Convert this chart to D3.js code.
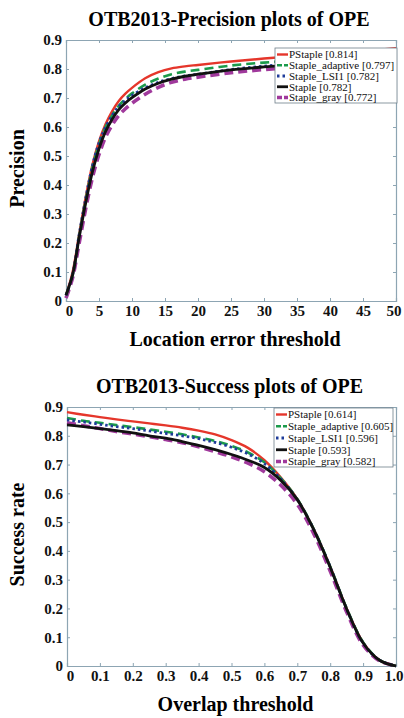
<!DOCTYPE html>
<html>
<head>
<meta charset="utf-8">
<script src="https://cdn.jsdelivr.net/npm/d3@7/dist/d3.min.js"></script>
<style>
  body { margin: 0; background: #fff; }
  svg text { font-family: "Liberation Serif", "DejaVu Serif", serif; }
</style>
</head>
<body>
<div id="chart"></div>
<script>
// 数据：系列名称与颜色
const seriesNames = ["PStaple", "Staple_adaptive", "Staple_LSI1", "Staple", "Staple_gray"];
const precScores = ["0.814", "0.797", "0.782", "0.782", "0.772"];
const succScores = ["0.614", "0.605", "0.596", "0.593", "0.582"];
const colors = ["#e5362b", "#1b9a4b", "#1f3c9a", "#111111", "#a0399c"];

// 精度曲线（位置误差阈值）
const precX = [0, 1, 2, 3, 4, 5, 6, 7, 8, 9, 10, 12, 14, 16, 18, 20, 25, 30, 35, 40, 45, 50];
const precPStaple = [0.02, 0.10, 0.23, 0.36, 0.47, 0.55, 0.61, 0.655, 0.69, 0.715, 0.735, 0.768, 0.789, 0.802, 0.809, 0.814, 0.826, 0.836, 0.845, 0.853, 0.862, 0.872];
const precAdaptive = [0.02, 0.09, 0.225, 0.35, 0.46, 0.54, 0.60, 0.64, 0.673, 0.697, 0.716, 0.746, 0.767, 0.782, 0.791, 0.797, 0.812, 0.822, 0.83, 0.836, 0.842, 0.848];
const precLSI1 = [0.02, 0.09, 0.23, 0.355, 0.465, 0.545, 0.60, 0.64, 0.671, 0.692, 0.709, 0.735, 0.754, 0.767, 0.776, 0.782, 0.798, 0.81, 0.82, 0.828, 0.835, 0.84];
const precStaple = [0.02, 0.09, 0.22, 0.34, 0.445, 0.525, 0.585, 0.627, 0.66, 0.683, 0.701, 0.731, 0.751, 0.765, 0.775, 0.782, 0.797, 0.807, 0.815, 0.822, 0.828, 0.834];
const precGray = [0.01, 0.08, 0.20, 0.32, 0.425, 0.505, 0.565, 0.607, 0.64, 0.663, 0.682, 0.713, 0.737, 0.754, 0.765, 0.772, 0.787, 0.798, 0.806, 0.813, 0.819, 0.825];

// 成功率曲线（重叠阈值）
const succX = [0, 0.05, 0.1, 0.15, 0.2, 0.25, 0.3, 0.35, 0.4, 0.45, 0.5, 0.55, 0.6, 0.65, 0.7, 0.75, 0.8, 0.85, 0.9, 0.95, 1.0];
const succPStaple = [0.882, 0.873, 0.865, 0.857, 0.85, 0.843, 0.836, 0.828, 0.818, 0.805, 0.785, 0.758, 0.715, 0.655, 0.58, 0.475, 0.345, 0.2, 0.082, 0.02, 0];
const succAdaptive = [0.862, 0.852, 0.845, 0.837, 0.83, 0.822, 0.814, 0.805, 0.794, 0.782, 0.765, 0.742, 0.708, 0.652, 0.58, 0.476, 0.346, 0.201, 0.083, 0.021, 0];
const succLSI1 = [0.855, 0.848, 0.84, 0.832, 0.825, 0.817, 0.808, 0.80, 0.79, 0.777, 0.76, 0.737, 0.703, 0.65, 0.578, 0.474, 0.344, 0.198, 0.08, 0.02, 0];
const succStaple = [0.838, 0.832, 0.825, 0.818, 0.81, 0.80, 0.792, 0.78, 0.767, 0.752, 0.735, 0.715, 0.69, 0.645, 0.578, 0.474, 0.343, 0.198, 0.08, 0.02, 0];
const succGray = [0.845, 0.835, 0.825, 0.815, 0.806, 0.797, 0.787, 0.776, 0.762, 0.745, 0.727, 0.705, 0.675, 0.628, 0.562, 0.46, 0.33, 0.188, 0.073, 0.018, 0];

// 刻度
const precXTicks = [0, 5, 10, 15, 20, 25, 30, 35, 40, 45, 50];
const succXTicks = [0, 0.1, 0.2, 0.3, 0.4, 0.5, 0.6, 0.7, 0.8, 0.9, 1.0];
const yTicks = [0, 0.1, 0.2, 0.3, 0.4, 0.5, 0.6, 0.7, 0.8, 0.9];

// 线型
const dashes = [null, "9,5", "2.5,3", null, "9,5"];
const widths = [2.4, 2.6, 2.8, 2.8, 3.6];
const drawOrder = [4, 0, 1, 2, 3];

const svg = d3.select("#chart").append("svg").attr("width", 404).attr("height", 718);

function drawPanel(cfg) {
  const x = d3.scaleLinear().domain(cfg.xDomain).range([cfg.left, cfg.right]);
  const y = d3.scaleLinear().domain([0, 0.9]).range([cfg.bottom, cfg.top]);
  const g = svg.append("g");
  const axisColor = "#8da5b3";
  const lastTick = cfg.xTicks.length - 1;

  // 标题
  g.append("text")
    .attr("x", (cfg.left + cfg.right) / 2 - 2)
    .attr("y", cfg.top - 14)
    .attr("text-anchor", "middle")
    .style("font-size", "20px")
    .style("font-weight", "bold")
    .text(cfg.title);

  // 坐标轴（刻度朝内）
  const bottomAxis = g.append("g").attr("transform", `translate(0,${cfg.bottom})`)
    .call(d3.axisBottom(x).tickValues(cfg.xTicks).tickSize(-3).tickFormat(cfg.fmtX));
  g.append("g").attr("transform", `translate(0,${cfg.top})`)
    .call(d3.axisTop(x).tickValues(cfg.xTicks).tickSize(-3).tickFormat(""));
  g.append("g").attr("transform", `translate(${cfg.left},0)`)
    .call(d3.axisLeft(y).tickValues(yTicks).tickSize(-3).tickPadding(4).tickFormat((d) => (d === 0 ? "0" : d3.format(".1f")(d))));
  g.append("g").attr("transform", `translate(${cfg.right},0)`)
    .call(d3.axisRight(y).tickValues(yTicks).tickSize(-3).tickFormat(""));

  g.selectAll(".domain").attr("stroke", axisColor).attr("stroke-width", 1.2);
  g.selectAll(".tick line").attr("stroke", axisColor);
  g.selectAll(".tick text")
    .attr("fill", "#111")
    .style("font-size", "15px")
    .style("font-weight", "bold")
    .style("font-family", "'Liberation Serif', serif");
  bottomAxis.selectAll(".tick text").attr("y", 15).attr("dy", 0)
    .attr("dx", (d, i) => (i === 0 ? 3 : i === lastTick ? -2.5 : 0));

  // 轴标签
  g.append("text")
    .attr("x", (cfg.left + cfg.right) / 2 + 4)
    .attr("y", cfg.bottom + 45)
    .attr("text-anchor", "middle")
    .style("font-size", "20px")
    .style("font-weight", "bold")
    .text(cfg.xLabel);
  g.append("text")
    .attr("transform", `translate(24,${(cfg.top + cfg.bottom) / 2 - 2}) rotate(-90)`)
    .attr("text-anchor", "middle")
    .style("font-size", "20px")
    .style("font-weight", "bold")
    .text(cfg.yLabel);

  // 曲线
  const line = d3.line().x((d) => x(d[0])).y((d) => y(d[1])).curve(d3.curveCatmullRom.alpha(0.5));
  const curves = g.append("g");
  drawOrder.forEach((i) => {
    curves.append("path")
      .datum(cfg.xs.map((v, k) => [v, cfg.series[i][k]]))
      .attr("d", line)
      .attr("fill", "none")
      .attr("stroke", colors[i])
      .attr("stroke-width", widths[i])
      .attr("stroke-dasharray", dashes[i]);
  });

  // 图例
  const lg = g.append("g");
  lg.append("rect")
    .attr("x", cfg.legX).attr("y", cfg.legY)
    .attr("width", cfg.legW).attr("height", cfg.legH)
    .attr("fill", "#fff").attr("stroke", "#6f7f8a").attr("stroke-width", 0.8);
  const rowH = (cfg.legH - 12) / (seriesNames.length - 1);
  seriesNames.forEach((name, i) => {
    const cy = cfg.legY + 6.5 + i * rowH;
    lg.append("line")
      .attr("x1", cfg.legX + 2).attr("x2", cfg.legX + 13)
      .attr("y1", cy).attr("y2", cy)
      .attr("stroke", colors[i]).attr("stroke-width", widths[i])
      .attr("stroke-dasharray", dashes[i] ? (i === 2 ? "2.5,3" : "5,2") : null);
    lg.append("text")
      .attr("x", cfg.legX + 14).attr("y", cy + 3.8)
      .style("font-size", "11px")
      .attr("fill", "#111")
      .text(`${name} [${cfg.scores[i]}]`);
  });
}

drawPanel({
  title: "OTB2013-Precision plots of OPE",
  xLabel: "Location error threshold",
  yLabel: "Precision",
  left: 66, right: 396, top: 40, bottom: 301,
  xDomain: [0, 50], xTicks: precXTicks, fmtX: d3.format("d"),
  xs: precX,
  series: [precPStaple, precAdaptive, precLSI1, precStaple, precGray],
  scores: precScores,
  legX: 275, legY: 48, legW: 122, legH: 55
});

drawPanel({
  title: "OTB2013-Success plots of OPE",
  xLabel: "Overlap threshold",
  yLabel: "Success rate",
  left: 67, right: 396, top: 407, bottom: 666,
  xDomain: [0, 1], xTicks: succXTicks, fmtX: (d) => (d === 0 ? "0" : d3.format(".1f")(d)),
  xs: succX,
  series: [succPStaple, succAdaptive, succLSI1, succStaple, succGray],
  scores: succScores,
  legX: 274, legY: 408, legW: 119, legH: 59
});
</script>
</body>
</html>
